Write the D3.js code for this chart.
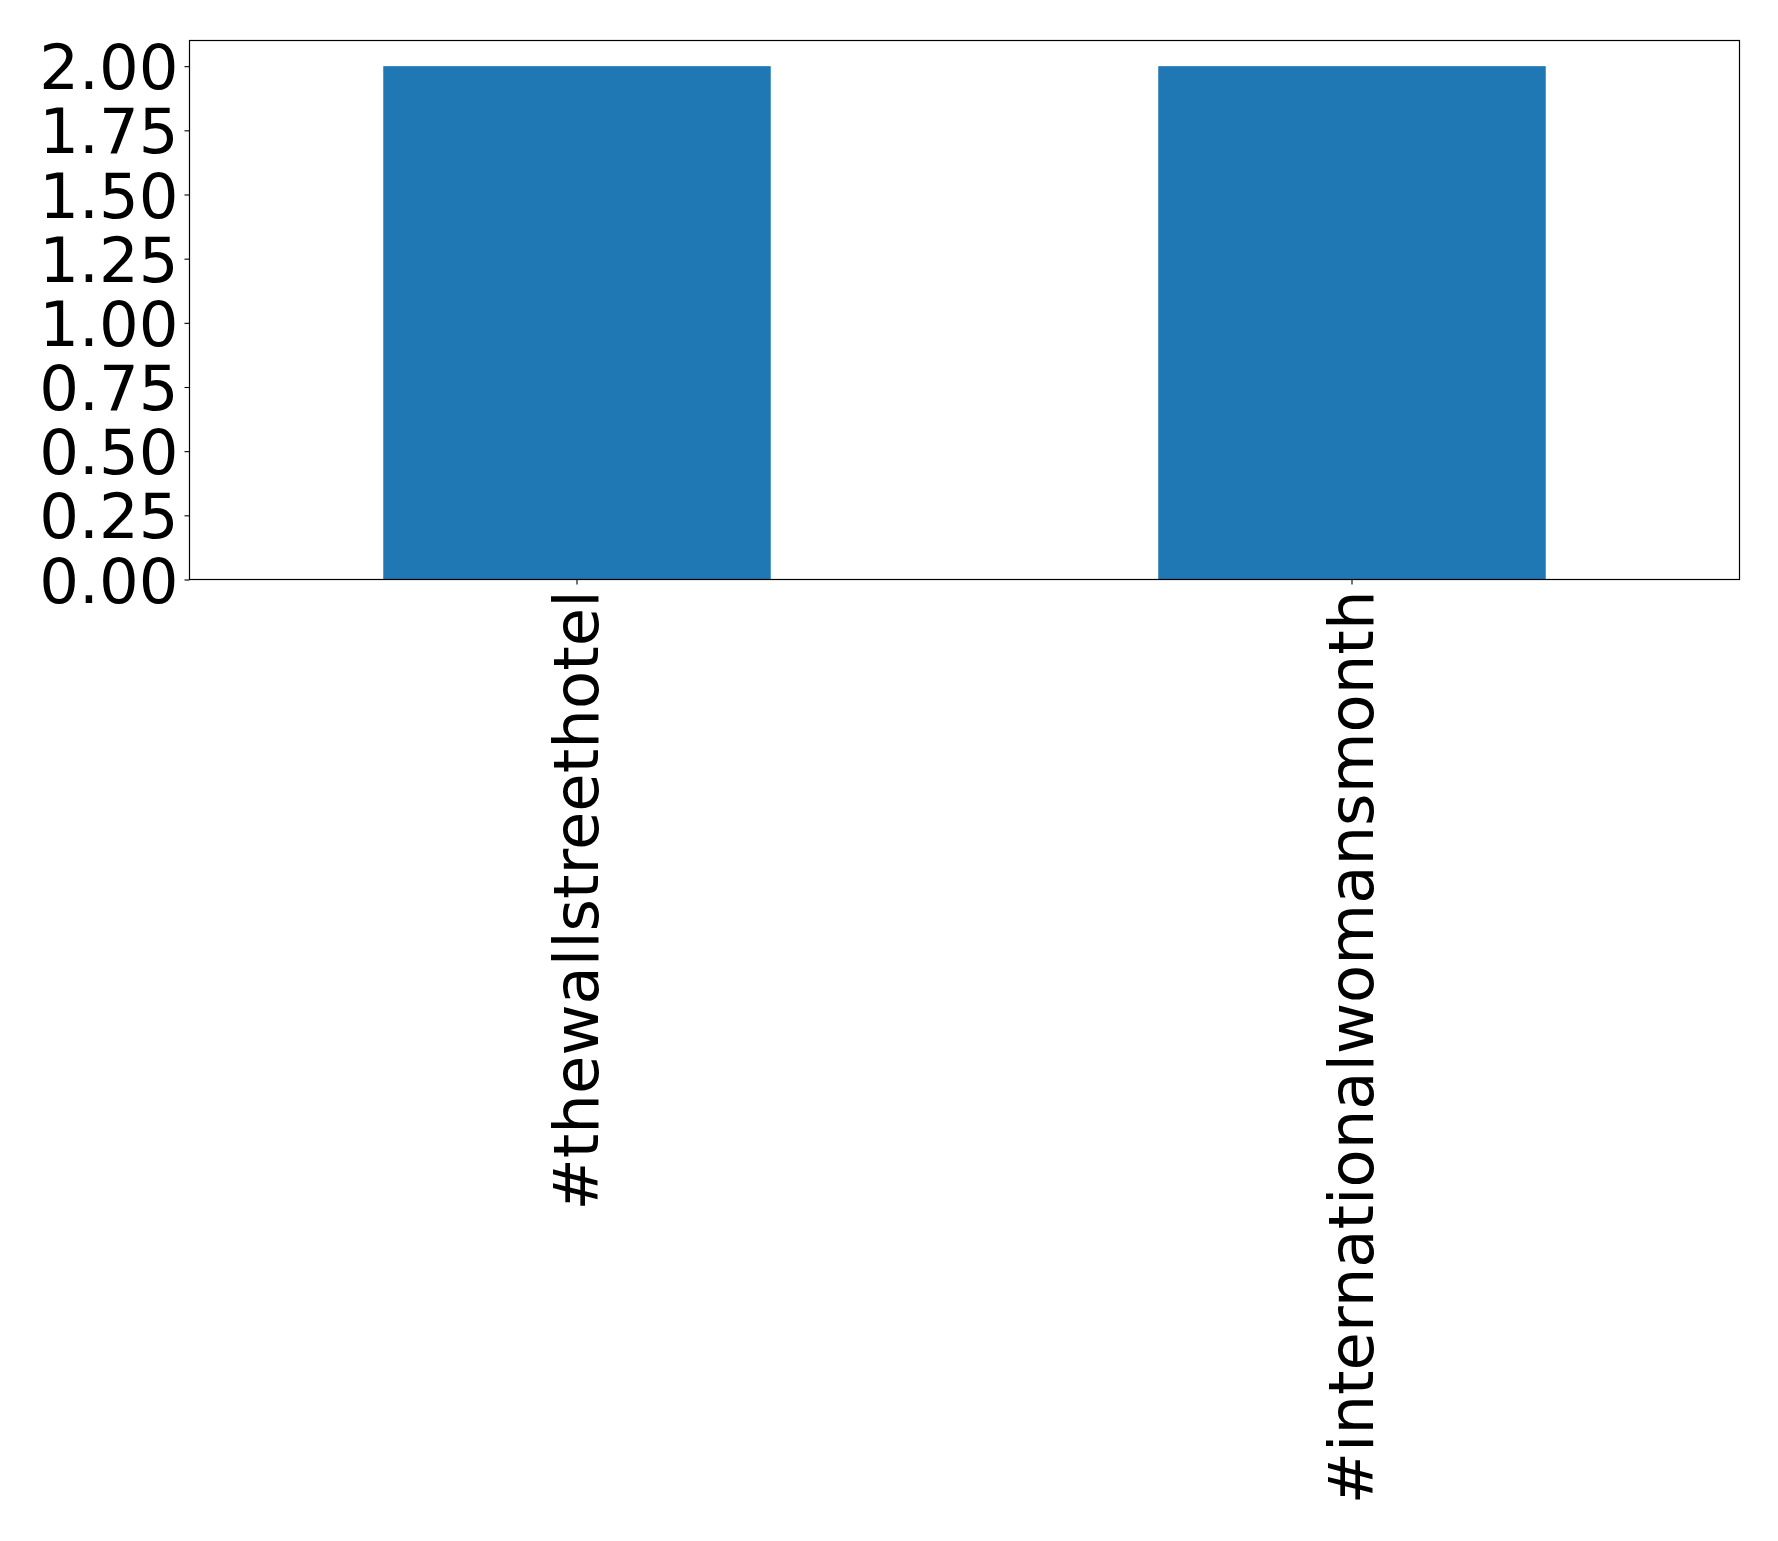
<!DOCTYPE html>
<html>
<head>
<meta charset="utf-8">
<script src="https://cdn.jsdelivr.net/npm/d3@7"></script>
<style>
  html, body { margin: 0; padding: 0; background: #fff; }
  svg { display: block; }
  text { font-family: "DejaVu Sans", sans-serif; fill: #000; }
</style>
</head>
<body>
<svg id="chart" width="1778" height="1541"></svg>
<script>
const categories = ["#thewallstreethotel", "#internationalwomansmonth"];
const values = [2, 2];
const yTicks = [0, 0.25, 0.5, 0.75, 1.0, 1.25, 1.5, 1.75, 2.0];

const W = 1778, H = 1541;
const plot = { left: 189.5, right: 1739.5, top: 40.5, bottom: 579.5 };
const fontSize = 62.5;

const svg = d3.select("#chart");
svg.append("rect").attr("width", W).attr("height", H).attr("fill", "#fff");

const x = d3.scaleBand()
  .domain(categories)
  .range([plot.left, plot.right])
  .paddingInner(0.5)
  .paddingOuter(0.25);

const y = d3.scaleLinear()
  .domain([0, 2.1])
  .range([plot.bottom, plot.top]);

// bars
svg.append("g").selectAll("rect")
  .data(categories)
  .join("rect")
  .attr("x", d => x(d))
  .attr("width", x.bandwidth())
  .attr("y", (d, i) => y(values[i]))
  .attr("height", (d, i) => y(0) - y(values[i]))
  .attr("fill", "#1f77b4");

// y axis
const yAxis = d3.axisLeft(y)
  .tickValues(yTicks)
  .tickFormat(d3.format(".2f"))
  .tickSize(5)
  .tickPadding(6);
const gy = svg.append("g")
  .attr("transform", `translate(${plot.left},0)`)
  .call(yAxis);
gy.select(".domain").remove();
gy.selectAll(".tick line").attr("stroke", "#000").attr("stroke-width", 1.1);
gy.selectAll(".tick text")
  .attr("font-size", fontSize)
  .attr("font-family", "DejaVu Sans")
  .attr("dy", "0.36em")
  .attr("fill", "#000");

// x axis
const xAxis = d3.axisBottom(x)
  .tickSize(5)
  .tickPadding(0);
const gx = svg.append("g")
  .attr("transform", `translate(0,${plot.bottom})`)
  .call(xAxis);
gx.select(".domain").remove();
gx.selectAll(".tick line").attr("stroke", "#000").attr("stroke-width", 1.1);
gx.selectAll(".tick text")
  .attr("font-size", fontSize)
  .attr("font-family", "DejaVu Sans")
  .attr("fill", "#000")
  .attr("text-anchor", "end")
  .attr("transform", "translate(0,11) rotate(-90)")
  .attr("x", 0)
  .attr("y", 0)
  .attr("dy", "0.33em");

// frame
svg.append("rect")
  .attr("x", plot.left)
  .attr("y", plot.top)
  .attr("width", plot.right - plot.left)
  .attr("height", plot.bottom - plot.top)
  .attr("fill", "none")
  .attr("stroke", "#000")
  .attr("stroke-width", 1.2);
</script>
</body>
</html>
